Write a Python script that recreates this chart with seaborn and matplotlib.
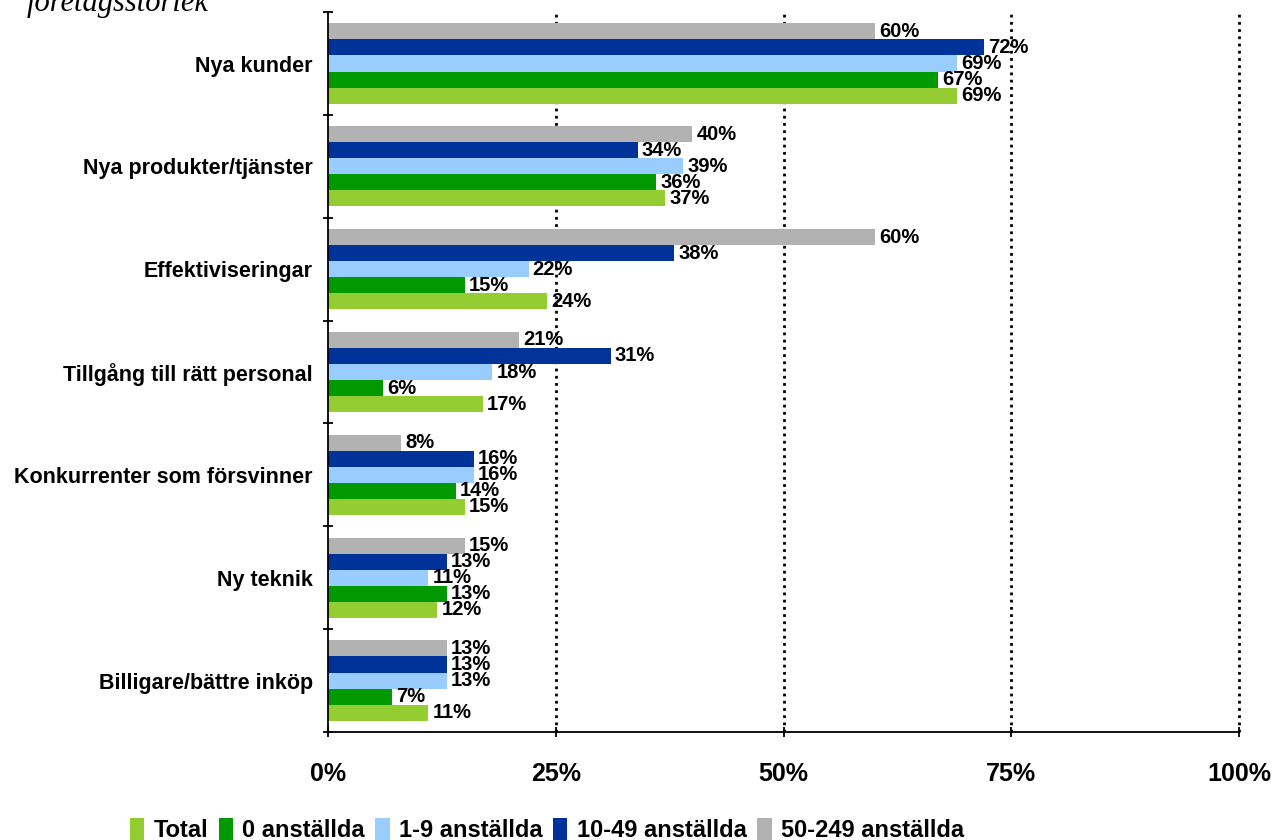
import pandas as pd
import numpy as np
import matplotlib
matplotlib.use("Agg")
import matplotlib.pyplot as plt
import seaborn as sns
from matplotlib.patches import Patch
from matplotlib.ticker import FuncFormatter

# Data (percent)
categories = [
    "Nya kunder",
    "Nya produkter/tjänster",
    "Effektiviseringar",
    "Tillgång till rätt personal",
    "Konkurrenter som försvinner",
    "Ny teknik",
    "Billigare/bättre inköp",
]
groups = ["Total", "0 anställda", "1-9 anställda", "10-49 anställda", "50-249 anställda"]
total = [69, 37, 24, 17, 15, 12, 11]
anst_0 = [67, 36, 15, 6, 14, 13, 7]
anst_1_9 = [69, 39, 22, 18, 16, 11, 13]
anst_10_49 = [72, 34, 38, 31, 16, 13, 13]
anst_50_249 = [60, 40, 60, 21, 8, 15, 13]
x_ticks = [0, 25, 50, 75, 100]

colors = {
    "Total": "#93CD32",
    "0 anställda": "#009900",
    "1-9 anställda": "#99CCFF",
    "10-49 anställda": "#003399",
    "50-249 anställda": "#B2B2B2",
}

# Long table for seaborn
values = [total, anst_0, anst_1_9, anst_10_49, anst_50_249]
rows = []
for g, vals in zip(groups, values):
    for c, v in zip(categories, vals):
        rows.append({"Kategori": c, "Grupp": g, "Andel": v})
df = pd.DataFrame(rows)

sns.set_style("white")
plt.rcParams["font.family"] = ["Liberation Sans", "DejaVu Sans"]
plt.rcParams["text.color"] = "black"
plt.rcParams["xtick.color"] = "black"
plt.rcParams["ytick.color"] = "black"

fig = plt.figure(figsize=(12.72, 8.4), dpi=100)
ax = fig.add_axes([0.258, 0.1286, 0.716, 0.857])

# top bar in each group is the largest company size
hue_order = groups[::-1]
sns.barplot(data=df, y="Kategori", x="Andel", hue="Grupp", order=categories,
            hue_order=hue_order, palette=colors, orient="h", width=0.78,
            saturation=1, gap=0, linewidth=0, legend=False, ax=ax)

for cont in ax.containers:
    ax.bar_label(cont, fmt="%d%%", padding=3, fontsize=14.5, fontweight="heavy",
                 color="black")

# dotted reference lines
for t in x_ticks[1:]:
    ax.axvline(t, color="black", linestyle=(0, (1, 1.6)), linewidth=2, zorder=0,
               clip_on=False)

ax.set_xlim(0, 100)
ax.set_ylim(len(categories) - 0.5, -0.5)
ax.set_xticks(x_ticks)
ax.xaxis.set_major_formatter(FuncFormatter(lambda x, p: f"{x:.0f}%"))
ax.set_xlabel("")
ax.set_ylabel("")

for side in ["top", "right"]:
    ax.spines[side].set_visible(False)
for side in ["left", "bottom"]:
    ax.spines[side].set_color("black")
    ax.spines[side].set_linewidth(1.3)

ax.set_yticks(np.arange(-0.5, len(categories)), minor=True)
ax.tick_params(axis="y", which="major", length=0, pad=11, labelsize=15.5, labelcolor="black")
ax.tick_params(axis="y", which="minor", direction="inout", length=7, width=1.3, color="black", left=True)
ax.tick_params(axis="x", which="major", direction="inout", length=7, width=1.3, color="black",
               pad=18, labelsize=18, bottom=True, labelcolor="black")
for lbl in ax.get_yticklabels() + ax.get_xticklabels():
    lbl.set_fontweight("bold")

# legend in original order
handles = [Patch(facecolor=colors[g], edgecolor="none") for g in groups]
fig.legend(handles, groups, loc="lower center", bbox_to_anchor=(0.43, -0.028), ncol=5,
           frameon=False, handlelength=0.6, handleheight=1.1, handletextpad=0.4,
           columnspacing=0.45, prop={"weight": "bold", "size": 17})

# title cut off at top edge in the original
fig.text(0.021, 0.987, "företagsstorlek", fontsize=22, style="italic",
         family=["Liberation Serif", "DejaVu Serif"], va="baseline", ha="left")

plt.savefig("out.png", dpi=100)
